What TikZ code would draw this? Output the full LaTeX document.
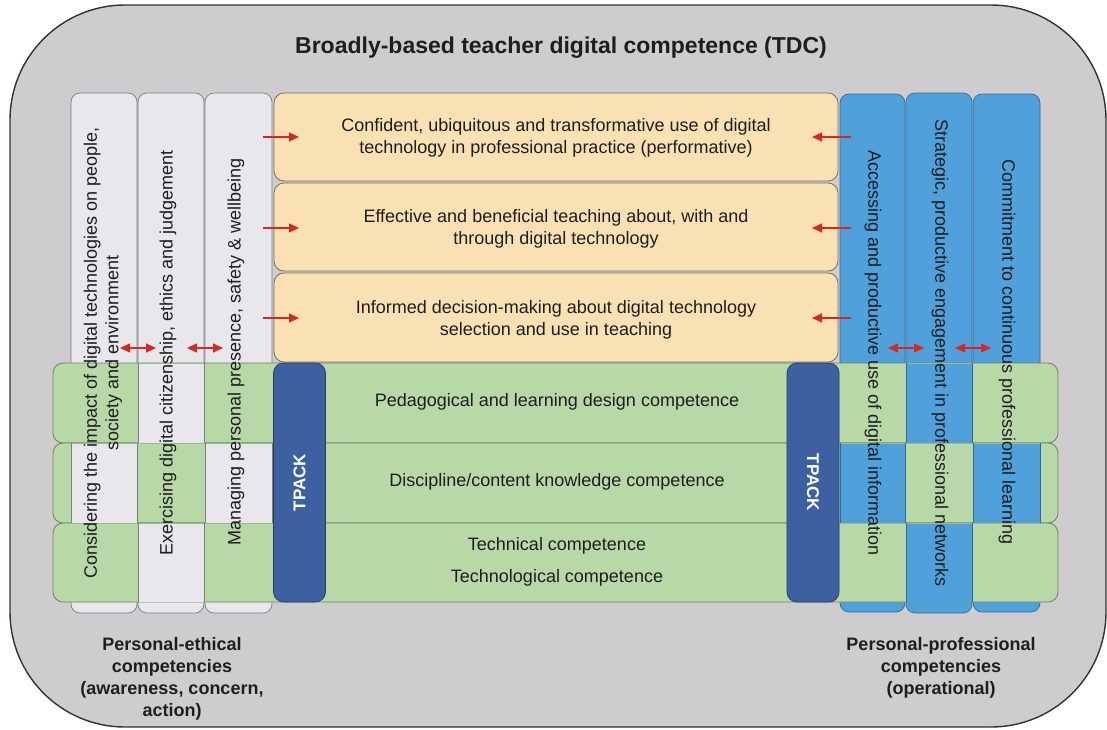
\documentclass[tikz,border=0pt]{standalone}
\usepackage{fontspec}
\setmainfont{Liberation Sans}
\usetikzlibrary{arrows.meta}
\definecolor{outerfill}{RGB}{207,204,207}
\definecolor{outerline}{RGB}{50,50,50}
\definecolor{colgrey}{RGB}{231,231,236}
\definecolor{greyline}{RGB}{125,125,125}
\definecolor{orangefill}{RGB}{250,225,180}
\definecolor{orangeline}{RGB}{120,110,95}
\definecolor{bluefill}{RGB}{80,160,220}
\definecolor{blueline}{RGB}{55,105,150}
\definecolor{greenfill}{RGB}{184,216,167}
\definecolor{greenline}{RGB}{105,130,100}
\definecolor{tpackfill}{RGB}{60,96,160}
\definecolor{tpackline}{RGB}{40,60,100}
\definecolor{arrowred}{RGB}{212,40,35}
\definecolor{textdark}{RGB}{30,30,30}
\begin{document}
\begin{tikzpicture}[x=1pt,y=-1pt,
  outerbox/.style={draw=outerline, fill=outerfill, line width=1.4pt, rounded corners=115pt, inner sep=0pt},
  greycol/.style={draw=greyline, fill=colgrey, line width=0.7pt, rounded corners=9pt, inner sep=0pt},
  bluecol/.style={draw=blueline, fill=bluefill, line width=0.7pt, rounded corners=9pt, inner sep=0pt},
  orangebox/.style={draw=orangeline, fill=orangefill, line width=0.8pt, rounded corners=10pt, inner sep=0pt, minimum width=564pt},
  greenrow/.style={draw=greenline, fill=greenfill, line width=0.8pt, rounded corners=10pt, inner sep=0pt, minimum width=1005pt},
  tpackbox/.style={draw=tpackline, fill=tpackfill, line width=0.7pt, rounded corners=10pt, inner sep=0pt, minimum width=52pt, minimum height=239pt},
  txt/.style={text=textdark, font=\fontsize{18}{21.5}\selectfont, align=center, inner sep=0pt},
  tpacktxt/.style={text=white, font=\bfseries\fontsize{17}{20}\selectfont, inner sep=0pt},
  labeltxt/.style={text=textdark, font=\bfseries\fontsize{18}{22}\selectfont, align=center, inner sep=0pt},
  titletxt/.style={text=textdark, font=\bfseries\fontsize{23}{27}\selectfont, inner sep=0pt},
  redarrow/.style={draw=arrowred, line width=1.3pt, -{Triangle[length=10pt,width=9pt]}},
  reddouble/.style={draw=arrowred, line width=1.3pt, {Triangle[length=10pt,width=9pt]}-{Triangle[length=10pt,width=9pt]}}
]
\useasboundingbox (0,0) rectangle (1107,729);

% outer box
\node[outerbox, minimum width=1096pt, minimum height=722pt] (outer) at (558,366) {};
\node[titletxt] (title) at (561,48) {Broadly-based teacher digital competence (TDC)};

% columns (personal-ethical)
\node[greycol, minimum width=66pt, minimum height=520pt] (pe1) at (104,353) {};
\node[greycol, minimum width=66pt, minimum height=520pt] (pe2) at (171,353) {};
\node[greycol, minimum width=67pt, minimum height=520pt] (pe3) at (238.5,353) {};
% columns (personal-professional)
\node[bluecol, minimum width=65pt, minimum height=518pt] (pp1) at (872.5,353) {};
\node[bluecol, minimum width=66pt, minimum height=520pt] (pp2) at (939,353) {};
\node[bluecol, minimum width=67pt, minimum height=518pt] (pp3) at (1006.5,353) {};

% orange boxes
\node[orangebox, minimum height=88pt] (o1) at (556,137) {};
\node[orangebox, minimum height=88pt] (o2) at (556,227) {};
\node[orangebox, minimum height=89pt] (o3) at (556,317.5) {};

% green rows
\node[greenrow, minimum height=80pt] (g1) at (555.5,403) {};
\node[greenrow, minimum height=80pt] (g2) at (555.5,483) {};
\node[greenrow, minimum height=79pt] (g3) at (555.5,562.5) {};

% weave patches (column over row)
\fill[colgrey] (138.4,363.6) rectangle (203.6,442.6);
\fill[colgrey] (71.4,443.6) rectangle (136.6,522.6);
\fill[colgrey] (205.4,443.6) rectangle (271.6,522.6);
\fill[colgrey] (138.4,523.6) rectangle (203.6,601.6);
\fill[bluefill] (906.4,363.6) rectangle (971.6,442.6);
\fill[bluefill] (840.4,443.6) rectangle (904.6,522.6);
\fill[bluefill] (973.4,443.6) rectangle (1039.6,522.6);
\fill[bluefill] (906.4,523.6) rectangle (971.6,601.6);
\draw[greyline, line width=0.7pt]
  (138,363)--(138,443) (204,363)--(204,443)
  (71,443)--(71,523) (137,443)--(137,523)
  (205,443)--(205,523) (272,443)--(272,523)
  (138,523)--(138,602) (204,523)--(204,602);
\draw[blueline, line width=0.7pt]
  (906,363)--(906,443) (972,363)--(972,443)
  (840,443)--(840,523) (905,443)--(905,523)
  (973,443)--(973,523) (1040,443)--(1040,523)
  (906,523)--(906,602) (972,523)--(972,602);

% TPACK
\node[tpackbox] (tp1) at (299.5,482.5) {};
\node[tpackbox] (tp2) at (813,482.5) {};
\node[tpacktxt, rotate=90] (tp1t) at (tp1) {TPACK};
\node[tpacktxt, rotate=-90] (tp2t) at (tp2) {TPACK};

% orange texts
\node[txt] (o1t) at (556,138) {Confident, ubiquitous and transformative use of digital\\technology in professional practice (performative)};
\node[txt] (o2t) at (556,229) {Effective and beneficial teaching about, with and\\through digital technology};
\node[txt] (o3t) at (556,320) {Informed decision-making about digital technology\\selection and use in teaching};

% green texts
\node[txt] (g1t) at (557,402) {Pedagogical and learning design competence};
\node[txt] (g2t) at (557,482) {Discipline/content knowledge competence};
\node[txt] (g3t) at (557,546) {Technical competence};
\node[txt] (g3u) at (557,578) {Technological competence};

% column texts
\node[txt, rotate=90] (pe1t) at (103,353) {Considering the impact of digital technologies on people,\\society and environment};
\node[txt, rotate=90] (pe2t) at (168,353) {Exercising digital citizenship, ethics and judgement};
\node[txt, rotate=90] (pe3t) at (236,352) {Managing personal presence, safety \& wellbeing};
\node[txt, rotate=-90] (pp1t) at (873,353) {Accessing and productive use of digital information};
\node[txt, rotate=-90] (pp2t) at (940,353) {Strategic, productive engagement in professional networks};
\node[txt, rotate=-90] (pp3t) at (1007,352) {Commitment to continuous professional learning};

% arrows
\coordinate (la1) at (263,137); \coordinate (lb1) at (299,137);
\coordinate (la2) at (263,228); \coordinate (lb2) at (299,228);
\coordinate (la3) at (263,318); \coordinate (lb3) at (299,318);
\coordinate (ra1) at (851,137); \coordinate (rb1) at (812,137);
\coordinate (ra2) at (851,228); \coordinate (rb2) at (812,228);
\coordinate (ra3) at (851,318); \coordinate (rb3) at (812,318);
\draw[redarrow] (la1) -- (lb1);
\draw[redarrow] (la2) -- (lb2);
\draw[redarrow] (la3) -- (lb3);
\draw[redarrow] (ra1) -- (rb1);
\draw[redarrow] (ra2) -- (rb2);
\draw[redarrow] (ra3) -- (rb3);
\coordinate (d1a) at (120,348); \coordinate (d1b) at (156,348);
\coordinate (d2a) at (187,348); \coordinate (d2b) at (223,348);
\coordinate (d3a) at (888,348); \coordinate (d3b) at (924,348);
\coordinate (d4a) at (955,348); \coordinate (d4b) at (991,348);
\draw[reddouble] (d1a) -- (d1b);
\draw[reddouble] (d2a) -- (d2b);
\draw[reddouble] (d3a) -- (d3b);
\draw[reddouble] (d4a) -- (d4b);

% bottom labels
\node[labeltxt] (lab1) at (172,679) {Personal-ethical\\competencies\\(awareness, concern,\\action)};
\node[labeltxt] (lab2) at (941,668) {Personal-professional\\competencies\\(operational)};
\end{tikzpicture}
\end{document}
